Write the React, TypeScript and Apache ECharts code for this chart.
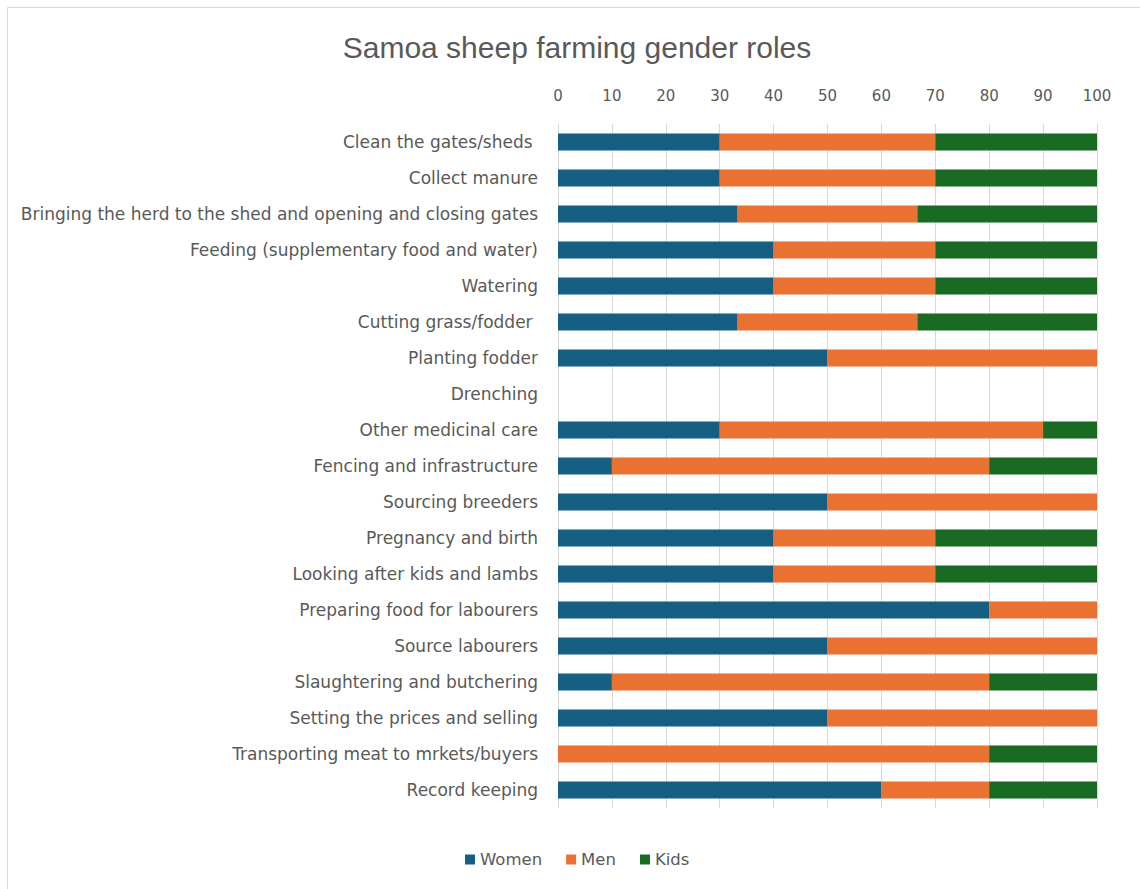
import React, { useEffect, useRef } from "react";
import * as echarts from "echarts";

const categories = [
  "Clean the gates/sheds ",
  "Collect manure",
  "Bringing the herd to the shed and opening and closing gates",
  "Feeding (supplementary food and water)",
  "Watering",
  "Cutting grass/fodder ",
  "Planting fodder",
  "Drenching",
  "Other medicinal care",
  "Fencing and infrastructure",
  "Sourcing breeders",
  "Pregnancy and birth",
  "Looking after kids and lambs",
  "Preparing food for labourers",
  "Source labourers",
  "Slaughtering and butchering",
  "Setting the prices and selling",
  "Transporting meat to mrkets/buyers",
  "Record keeping",
];

const women = [30, 30, 33.33, 40, 40, 33.33, 50, 0, 30, 10, 50, 40, 40, 80, 50, 10, 50, 0, 60];
const men = [40, 40, 33.33, 30, 30, 33.33, 50, 0, 60, 70, 50, 30, 30, 20, 50, 70, 50, 80, 20];
const kids = [30, 30, 33.34, 30, 30, 33.34, 0, 0, 10, 20, 0, 30, 30, 0, 0, 20, 0, 20, 20];

const xTicks = { min: 0, max: 100, interval: 10 };

const FONT = "'DejaVu Sans', 'Liberation Sans', sans-serif";
const TITLE_FONT = "'Liberation Sans', sans-serif";
const TEXT = "#595959";

export default function App() {
  const ref = useRef<HTMLDivElement>(null);
  useEffect(() => {
    document.body.style.margin = "0";
    if (!ref.current) return;
    const chart = echarts.init(ref.current, null, { renderer: "svg" });
    const mk = (name: string, data: number[], color: string) => ({
      name,
      type: "bar",
      stack: "total",
      data,
      barWidth: 17,
      itemStyle: { color },
    });
    chart.setOption({
      animation: false,
      backgroundColor: "#ffffff",
      textStyle: { fontFamily: FONT },
      title: {
        text: "Samoa sheep farming gender roles",
        left: 572,
        textAlign: "center",
        top: 27,
        textStyle: { fontFamily: TITLE_FONT, fontSize: 30, fontWeight: "normal", color: TEXT },
      },
      graphic: [
        {
          type: "rect",
          shape: { x: 7.5, y: 7.5, width: 1200, height: 1000 },
          style: { fill: "none", stroke: "#d9d9d9", lineWidth: 1 },
          silent: true,
        },
      ],
      legend: {
        data: ["Women", "Men", "Kids"],
        left: 460,
        top: 846,
        itemWidth: 10,
        itemHeight: 10,
        itemGap: 24,
        icon: "rect",
        textStyle: { fontFamily: FONT, fontSize: 16.5, color: TEXT },
      },
      grid: { left: 558, right: 43, top: 124, bottom: 81 },
      xAxis: {
        type: "value",
        position: "top",
        min: xTicks.min,
        max: xTicks.max,
        interval: xTicks.interval,
        axisLine: { show: false },
        axisTick: { show: false },
        axisLabel: { fontFamily: FONT, fontSize: 15, color: TEXT, margin: 21 },
        splitLine: { show: true, lineStyle: { color: "#d9d9d9", width: 1 } },
      },
      yAxis: {
        type: "category",
        data: categories,
        inverse: true,
        axisLine: { show: false },
        axisTick: { show: false },
        axisLabel: { fontFamily: FONT, fontSize: 17, color: TEXT, margin: 20 },
      },
      series: [
        mk("Women", women, "#156082"),
        mk("Men", men, "#E97132"),
        mk("Kids", kids, "#196B24"),
      ],
    });
    return () => chart.dispose();
  }, []);
  return <div ref={ref} style={{ width: 1140, height: 889 }} />;
}
